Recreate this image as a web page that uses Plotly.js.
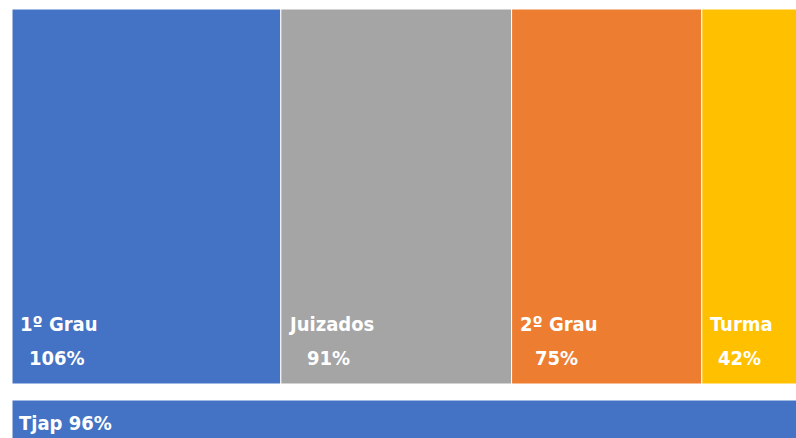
<!DOCTYPE html>
<html>
<head>
<meta charset="utf-8">
<script src="https://cdn.plot.ly/plotly-3.0.1.min.js"></script>
<style>html,body{margin:0;padding:0;background:#fff;}</style>
</head>
<body>
<div id="chart" style="width:796px;height:438px;"></div>
<script>
// ---- data ----
const categories = ["1º Grau", "Juizados", "2º Grau", "Turma"];
const values = [106, 91, 75, 42];
const colors = ["#4472C4", "#A5A5A5", "#ED7D31", "#FFC000"];
const totalLabel = "Tjap";
const totalValue = 96;
const totalColor = "#4472C4";

// ---- layout constants ----
const FONT = "'DejaVu Sans Condensed', 'Liberation Sans Narrow', sans-serif";
const FS = 20;
const W = 796, H = 438, ML = 12, MT = 9;
const pxPerUnit = 2.536;
const xMax = (W - ML) / pxPerUnit;

// cumulative positions
const lefts = [];
let acc = 0;
values.forEach(v => { lefts.push(acc); acc += v; });
const total = acc;

const topTrace = {
  type: "bar",
  x: values.map((v, i) => lefts[i] + v / 2),
  width: values,
  y: values.map(() => 1),
  base: values.map(() => 0),
  marker: { color: colors, line: { color: "#ffffff", width: 1 } },
  hoverinfo: "skip",
  showlegend: false
};
const gapTop = -16 / 375;
const bottomBase = -0.4;
const bottomTrace = {
  type: "bar",
  x: [total / 2],
  width: [total],
  y: [gapTop - bottomBase],
  base: [bottomBase],
  marker: { color: totalColor, line: { color: "#ffffff", width: 1 } },
  hoverinfo: "skip",
  showlegend: false
};

// measure text widths
const cv = document.createElement("canvas").getContext("2d");
cv.font = "bold " + FS + "px " + FONT;
function tw(s) { return cv.measureText(s).width; }

function py(px) { return (H - px) / (H - MT); }

const annotations = [];
categories.forEach((c, i) => {
  const w1 = tw(c);
  annotations.push({
    xref: "x", yref: "paper", x: lefts[i], y: py(324),
    xanchor: "left", yanchor: "middle", xshift: 6, showarrow: false,
    text: c, font: { family: FONT, size: FS, color: "#ffffff", weight: "bold" }
  });
  annotations.push({
    xref: "x", yref: "paper", x: lefts[i], y: py(358),
    xanchor: "center", yanchor: "middle", xshift: 6 + w1 / 2, showarrow: false,
    text: values[i] + "%", font: { family: FONT, size: FS, color: "#ffffff", weight: "bold" }
  });
});
annotations.push({
  xref: "x", yref: "paper", x: 0, y: py(423),
  xanchor: "left", yanchor: "middle", xshift: 5, showarrow: false,
  text: totalLabel + " " + totalValue + "%",
  font: { family: FONT, size: FS, color: "#ffffff", weight: "bold" }
});

const layout = {
  width: W, height: H,
  margin: { l: ML, r: 0, t: MT, b: 0, pad: 0 },
  paper_bgcolor: "#ffffff", plot_bgcolor: "#ffffff",
  xaxis: { range: [0, xMax], visible: false, fixedrange: true },
  yaxis: { range: [-(H - MT - 375) / 375, 1], visible: false, fixedrange: true },
  barmode: "overlay",
  annotations: annotations,
  showlegend: false
};

Plotly.newPlot("chart", [topTrace, bottomTrace], layout, { displayModeBar: false, staticPlot: true });
</script>
</body>
</html>
